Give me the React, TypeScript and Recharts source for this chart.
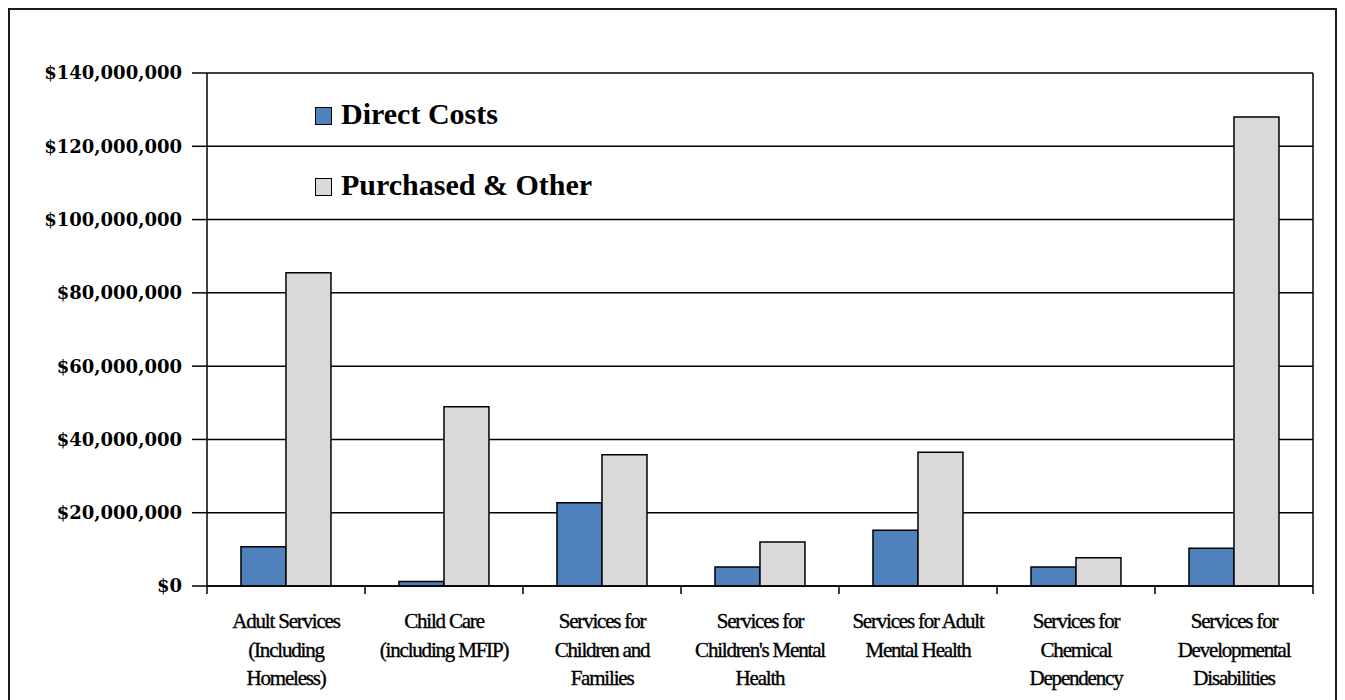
import React from "react";
import {
  BarChart,
  Bar,
  XAxis,
  YAxis,
  CartesianGrid,
  Legend,
} from "recharts";

// service areas, one label line per entry
const categories: string[][] = [
  ["Adult Services", "(Including", "Homeless)"],
  ["Child Care", "(including MFIP)"],
  ["Services for", "Children and", "Families"],
  ["Services for", "Children's Mental", "Health"],
  ["Services for Adult", "Mental Health"],
  ["Services for", "Chemical", "Dependency"],
  ["Services for", "Developmental", "Disabilities"],
];

const directCosts = [
  10700000, 1200000, 22700000, 5200000, 15200000, 5200000, 10300000,
];
const purchasedOther = [
  85500000, 48900000, 35800000, 12000000, 36500000, 7700000, 128000000,
];

const yTicks = [0, 20000000, 40000000, 60000000, 80000000, 100000000, 120000000, 140000000];

const data = categories.map((lines, i) => ({
  name: lines.join(" "),
  lines,
  direct: directCosts[i],
  purchased: purchasedOther[i],
}));

const CHART_W = 1325;
const CHART_H = 700;
const MARGIN = { top: 63, right: 22, bottom: 24, left: 0 };
const Y_AXIS_W = 197;
const PLOT_W = CHART_W - MARGIN.left - MARGIN.right - Y_AXIS_W;
const STEP = PLOT_W / categories.length;

const money = (v: number) => "$" + v.toLocaleString("en-US");

const CategoryTick = (props: any) => {
  const { x, y, index } = props;
  const lines: string[] = data[index]?.lines ?? [];
  const left = x - STEP / 2;
  const right = x + STEP / 2;
  return (
    <g>
      <line x1={left} y1={y} x2={left} y2={y + 8} stroke="#000" strokeWidth={1.5} />
      {index === categories.length - 1 && (
        <line x1={right} y1={y} x2={right} y2={y + 8} stroke="#000" strokeWidth={1.5} />
      )}
      <text
        x={x}
        y={y}
        textAnchor="middle"
        fontFamily="'Liberation Serif', serif"
        fontSize={21}
        letterSpacing={-1.2}
        fill="#000"
        stroke="#000"
        strokeWidth={0.35}
      >
        {lines.map((l, i) => (
          <tspan key={i} x={x} dy={i === 0 ? 42 : 28.5}>
            {l}
          </tspan>
        ))}
      </text>
    </g>
  );
};

const LegendBox = ({ payload }: any) => (
  <div style={{ fontFamily: "'Liberation Serif', serif", fontWeight: 700, fontSize: 30 }}>
    {(payload ?? []).map((item: any) => (
      <div
        key={item.value}
        style={{ display: "flex", alignItems: "center", height: 71, color: "#000" }}
      >
        <span
          style={{
            width: 15,
            height: 16,
            background: item.color,
            border: "1.5px solid #000",
            marginRight: 9,
            marginTop: 4,
          }}
        />
        <span>{item.value}</span>
      </div>
    ))}
  </div>
);

export default function App() {
  return (
    <div
      style={{
        width: CHART_W,
        height: CHART_H,
        border: "2px solid #1a1a1a",
        background: "#fff",
      }}
    >
      <BarChart
        width={CHART_W}
        height={CHART_H}
        data={data}
        margin={MARGIN}
        barCategoryGap="21.5%"
        barGap={0}
      >
        <CartesianGrid
          stroke="#000"
          strokeWidth={1.5}
          verticalCoordinatesGenerator={({ offset }: any) => [offset.left + offset.width]}
        />
        <XAxis
          dataKey="name"
          interval={0}
          height={100}
          tickSize={0}
          tickMargin={0}
          tickLine={false}
          axisLine={{ stroke: "#000", strokeWidth: 1.5 }}
          tick={<CategoryTick />}
        />
        <YAxis
          width={Y_AXIS_W}
          domain={[0, 140000000]}
          ticks={yTicks}
          interval={0}
          tickFormatter={money}
          tickSize={15}
          tickMargin={10}
          tickLine={{ stroke: "#000", strokeWidth: 1.5 }}
          axisLine={{ stroke: "#000", strokeWidth: 1.5 }}
          tick={{
            fill: "#000",
            fontFamily: "'DejaVu Serif', serif",
            fontWeight: 700,
            fontSize: 18,
          }}
        />
        <Legend
          layout="vertical"
          align="center"
          verticalAlign="middle"
          content={<LegendBox />}
          wrapperStyle={{ left: 305, top: 68, width: "auto" }}
        />
        <Bar
          dataKey="direct"
          name="Direct Costs"
          fill="#4F81BD"
          stroke="#000"
          strokeWidth={1.5}
          isAnimationActive={false}
        />
        <Bar
          dataKey="purchased"
          name="Purchased & Other"
          fill="#D9D9D9"
          stroke="#000"
          strokeWidth={1.5}
          isAnimationActive={false}
        />
      </BarChart>
    </div>
  );
}
